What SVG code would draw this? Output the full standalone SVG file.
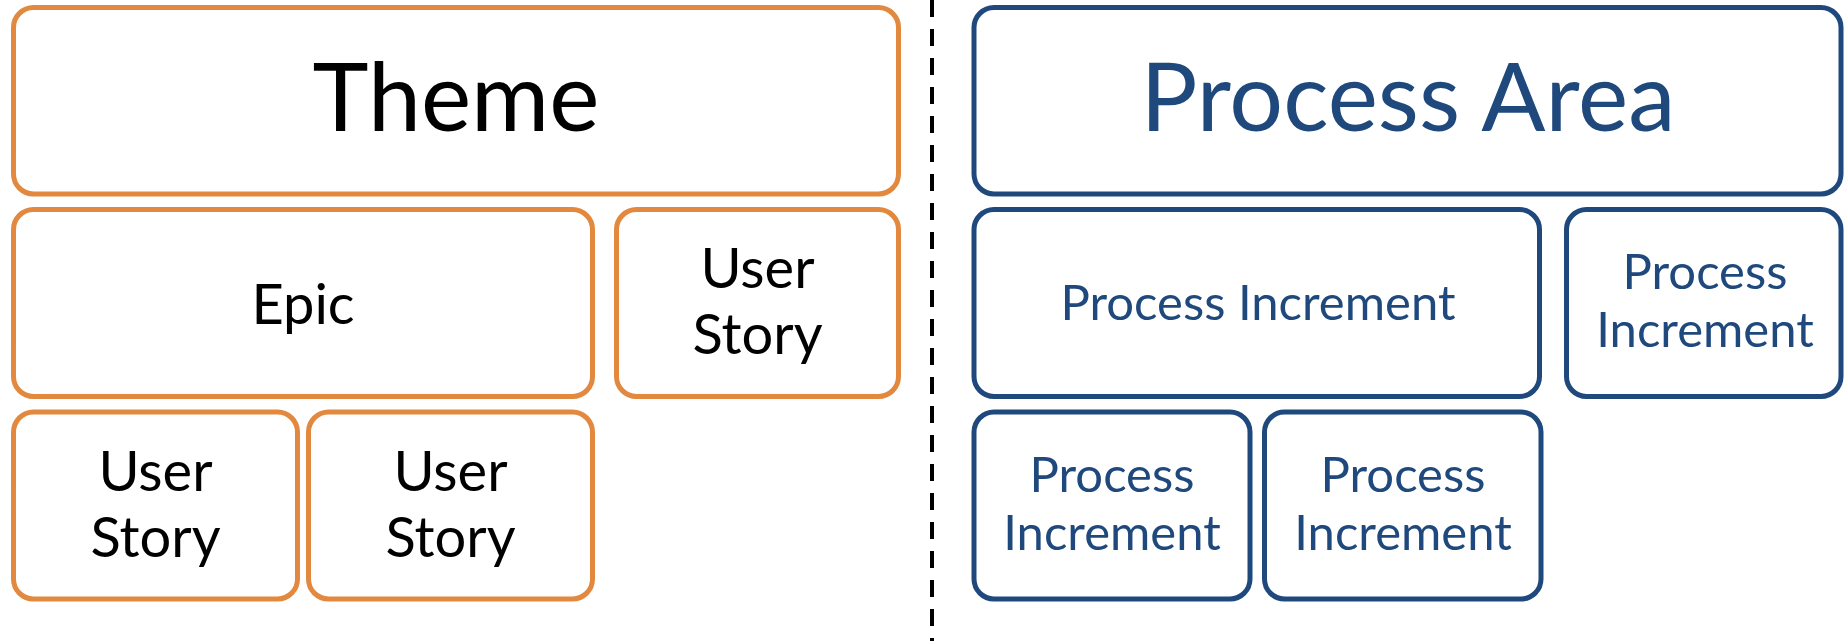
<svg xmlns="http://www.w3.org/2000/svg" width="1847" height="641" viewBox="0 0 1847 641">
  <style>
    .box { fill: #ffffff; stroke-width: 5; }
    .orange { stroke: #E2893F; }
    .blue { stroke: #1F497D; }
    text { font-family: Lato, "Open Sans", sans-serif; text-anchor: middle; }
    .dark { fill: #000000; }
    .navy { fill: #1F497D; }
    .big { font-size: 95px; }
    .mid { font-size: 56px; }
    .small { font-size: 49px; }
  </style>
  <rect width="1847" height="641" fill="#ffffff"/>

  <!-- divider between the two hierarchies -->
  <g id="divider">
    <line x1="932" y1="0" x2="932" y2="641" stroke="#000000" stroke-width="4" stroke-dasharray="17 12"/>
  </g>

  <!-- left hierarchy: agile work items -->
  <g id="theme">
    <rect class="box orange" x="13.5" y="7.5" width="885" height="186.5" rx="20"/>
    <text class="dark big" x="456" y="131">Theme</text>
  </g>
  <g id="epic">
    <rect class="box orange" x="13.5" y="209.5" width="579" height="187" rx="20"/>
    <text class="dark mid" x="303" y="324">Epic</text>
  </g>
  <g id="story-1">
    <rect class="box orange" x="616.5" y="209.5" width="282" height="187" rx="20"/>
    <text class="dark mid" x="757.5" y="288">User</text>
    <text class="dark mid" x="757.5" y="354">Story</text>
  </g>
  <g id="story-2">
    <rect class="box orange" x="13.5" y="412" width="284" height="187" rx="20"/>
    <text class="dark mid" x="155.5" y="490.5">User</text>
    <text class="dark mid" x="155.5" y="556.5">Story</text>
  </g>
  <g id="story-3">
    <rect class="box orange" x="308.5" y="412" width="284" height="187" rx="20"/>
    <text class="dark mid" x="450.5" y="490.5">User</text>
    <text class="dark mid" x="450.5" y="556.5">Story</text>
  </g>

  <!-- right hierarchy: process improvement items -->
  <g id="process-area">
    <rect class="box blue" x="974" y="7.5" width="867" height="186.5" rx="20"/>
    <text class="navy big" x="1408" y="131">Process Area</text>
  </g>
  <g id="increment-1">
    <rect class="box blue" x="974" y="209.5" width="565.5" height="187" rx="20"/>
    <text class="navy small" x="1258" y="320">Process Increment</text>
  </g>
  <g id="increment-2">
    <rect class="box blue" x="1566.5" y="209.5" width="274.5" height="187" rx="20"/>
    <text class="navy small" x="1705" y="289">Process</text>
    <text class="navy small" x="1705" y="347">Increment</text>
  </g>
  <g id="increment-3">
    <rect class="box blue" x="974" y="412" width="276" height="187" rx="20"/>
    <text class="navy small" x="1112" y="491.5">Process</text>
    <text class="navy small" x="1112" y="549.5">Increment</text>
  </g>
  <g id="increment-4">
    <rect class="box blue" x="1264.5" y="412" width="276.5" height="187" rx="20"/>
    <text class="navy small" x="1403" y="491.5">Process</text>
    <text class="navy small" x="1403" y="549.5">Increment</text>
  </g>
</svg>
